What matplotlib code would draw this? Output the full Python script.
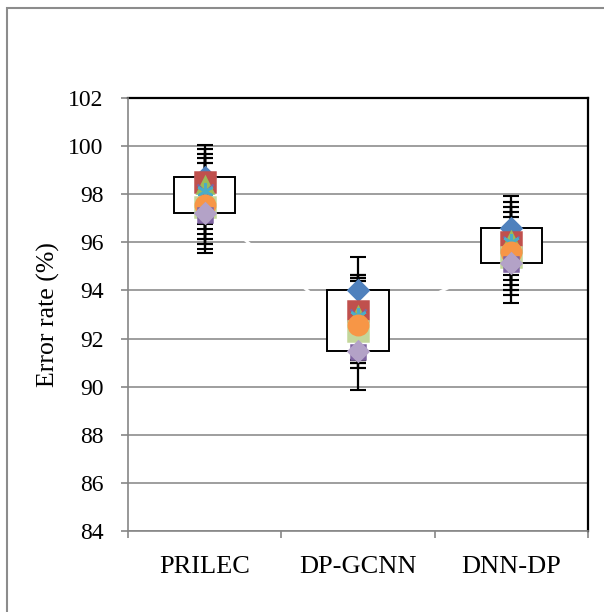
import numpy as np
import matplotlib
matplotlib.use("Agg")
import matplotlib.pyplot as plt
from matplotlib.patches import Rectangle

plt.rcParams['font.family'] = ['Liberation Serif', 'DejaVu Serif']

categories = ['PRILEC', 'DP-GCNN', 'DNN-DP']

# series values (one per category)
s_blue = [98.7, 94.0, 96.6]
s_red = [98.5, 93.15, 96.0]
s_green = [98.4, 93.0, 96.1]
s_purple_x = [98.1, 92.9, 95.95]
s_aqua = [98.15, 92.95, 96.0]
s_lightgreen = [97.45, 92.3, 95.37]
s_orange = [97.55, 92.55, 95.6]
s_purple = [97.15, 91.45, 95.1]
s_lavender = [97.2, 91.5, 95.15]

# error bar ends (upper / lower) per series
hi_blue = [100.05, 95.39, 97.93]
hi_red = [99.87, 94.64, 97.69]
hi_green = [99.67, 94.52, 97.48]
hi_purple_x = [99.49, 94.4, 97.27]
hi_aqua = [99.28, 94.52, 97.07]
hi_lightgreen = [99.67, 94.4, 97.48]
hi_orange = [99.49, 94.64, 97.27]
hi_purple = [99.28, 94.52, 97.07]
hi_lavender = [99.87, 94.64, 97.69]

lo_blue = [96.76, 91.1, 94.64]
lo_red = [96.55, 90.98, 94.44]
lo_green = [96.35, 90.77, 94.23]
lo_purple_x = [96.14, 89.86, 94.02]
lo_aqua = [95.93, 91.1, 93.81]
lo_lightgreen = [95.56, 90.77, 94.23]
lo_orange = [95.72, 90.98, 93.48]
lo_purple = [96.14, 91.1, 94.02]
lo_lavender = [95.93, 90.98, 93.81]

series = [
    # values, hi, lo, color, marker, size
    (s_blue, hi_blue, lo_blue, '#4F81BD', 'D', 10),
    (s_red, hi_red, lo_red, '#C0504D', 's', 14),
    (s_green, hi_green, lo_green, '#9BBB59', '^', 12),
    (s_purple_x, hi_purple_x, lo_purple_x, '#8064A2', 'x', 11),
    (s_aqua, hi_aqua, lo_aqua, '#4BACC6', (6, 2, 0), 12),
    (s_lightgreen, hi_lightgreen, lo_lightgreen, '#C3D69B', 's', 14),
    (s_orange, hi_orange, lo_orange, '#F79646', 'o', 14),
    (s_purple, hi_purple, lo_purple, '#7F64A2', 's', 10.5),
    (s_lavender, hi_lavender, lo_lavender, '#B3A2C7', 'D', 10.5),
]

x = np.arange(len(categories))

fig = plt.figure(figsize=(6.04, 6.12), dpi=100)
ax = fig.add_axes([128 / 604, 1 - 531 / 612, 460 / 604, 433 / 612])

# outer chart border
fig.patches.append(Rectangle((7 / 604, -0.1), 1.2, 1 - 8 / 612 + 0.1,
                             transform=fig.transFigure, fill=False,
                             edgecolor='#8c8c8c', lw=1.5))

ax.set_ylim(84, 102)
ax.set_xlim(-0.5, 2.5)
ax.set_yticks(np.arange(84, 103, 2))
ax.yaxis.grid(True, color='#969696', lw=1.3, zorder=0)
ax.set_axisbelow(True)

# white series line cutting through the gridlines
ax.plot(x, s_lightgreen, color='white', lw=2, zorder=1)

for vals, hi, lo, col, mk, ms in series:
    v = np.array(vals)
    ax.errorbar(x, v, yerr=[v - np.array(lo), np.array(hi) - v], fmt='none',
                ecolor='black', elinewidth=1.6, capsize=6, capthick=1.5, zorder=3)

# up-down bars between first and last series
top = np.maximum(s_blue, s_lavender)
bot = np.minimum(s_blue, s_lavender)
ax.bar(x, top - bot, bottom=bot, width=0.4, facecolor='white',
       edgecolor='black', lw=1.4, zorder=4)

for vals, hi, lo, col, mk, ms in series:
    ax.plot(x, vals, linestyle='none', marker=mk, ms=ms, color=col,
            mec=col, mew=1.8, zorder=5)

for side in ['top', 'right']:
    ax.spines[side].set_color('black')
    ax.spines[side].set_linewidth(1.6)
for side in ['left', 'bottom']:
    ax.spines[side].set_color('#868686')
    ax.spines[side].set_linewidth(1.2)
    ax.spines[side].set_zorder(6)

ax.set_xticks(x)
ax.set_xticklabels(categories)
ax.set_xticks([-0.5, 0.5, 1.5, 2.5], minor=True)
ax.tick_params(axis='x', which='major', length=0, pad=18, labelsize=19)
ax.tick_params(axis='x', which='minor', length=5, width=1.2, color='#868686')
ax.tick_params(axis='y', length=5, width=1.2, color='#868686', pad=12.5, labelsize=17)

ax.set_ylabel('Error rate (%)', fontsize=18.5, labelpad=6)

plt.savefig('out.png', dpi=100)
